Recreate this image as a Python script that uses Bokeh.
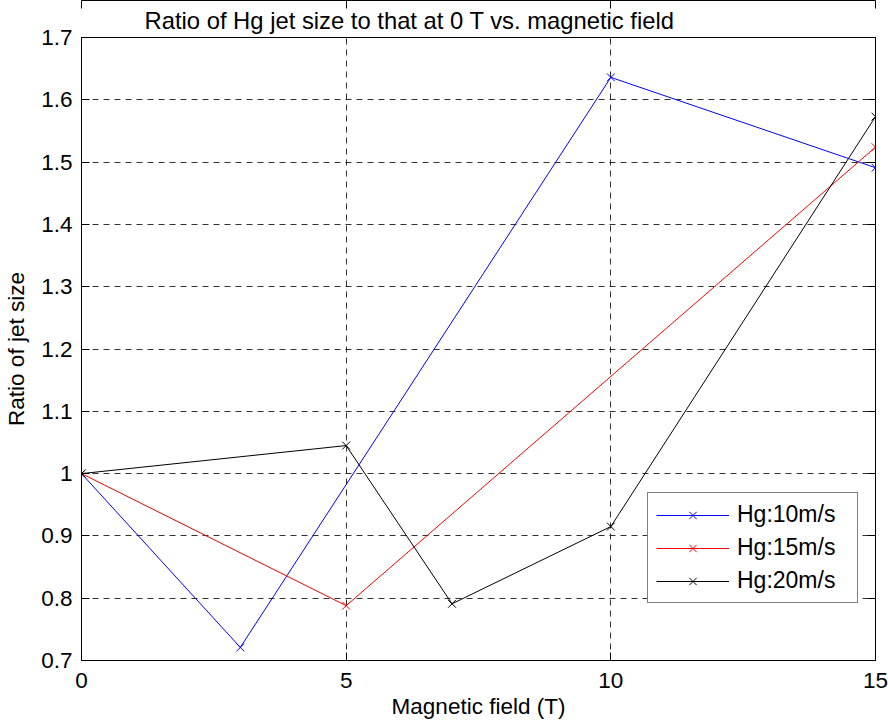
from bokeh.plotting import figure
from bokeh.models import (FixedTicker, NumeralTickFormatter, LinearAxis, Range1d,
                          Legend, LegendItem, Title, CustomJSTickFormatter)
from bokeh.embed import file_html
from bokeh.resources import INLINE

# ---- data ----
x_10 = [0, 3, 10, 15]
y_10 = [1.0, 0.721, 1.636, 1.491]
x_15 = [0, 5, 15]
y_15 = [1.0, 0.788, 1.524]
x_20 = [0, 5, 7, 10, 15]
y_20 = [1.0, 1.045, 0.791, 0.915, 1.573]

series_names = ["Hg:10m/s", "Hg:15m/s", "Hg:20m/s"]
x_ticks = [0, 5, 10, 15]
y_ticks = [0.7, 0.8, 0.9, 1.0, 1.1, 1.2, 1.3, 1.4, 1.5, 1.6, 1.7]

title_text = "Ratio of Hg jet size to that at 0 T vs. magnetic field"
x_label = "Magnetic field (T)"
y_label = "Ratio of jet size"

FONT = "Liberation Sans"
FS = "22.5px"

p = figure(width=888, height=722, output_backend="svg", toolbar_location=None,
           x_range=Range1d(0, 15), y_range=Range1d(0.7, 1.7),
           min_border_left=81, min_border_right=13, min_border_top=37,
           min_border_bottom=62)
p.title = None
p.add_layout(Title(text=title_text, align="left", offset=63, text_font=FONT,
                   text_font_size="23.8px", text_font_style="normal",
                   text_color="black", standoff=8), "above")

p.background_fill_color = "white"
p.border_fill_color = "white"
p.outline_line_color = "black"
p.outline_line_width = 1
p.outline_line_alpha = 1

for ax in [p.xaxis[0], p.yaxis[0]]:
    ax.major_tick_in = 8
    ax.major_tick_out = 0
    ax.minor_tick_line_color = None
    ax.major_label_text_font = FONT
    ax.major_label_text_font_size = FS
    ax.major_label_text_color = "black"
    ax.axis_label_text_font = FONT
    ax.axis_label_text_font_size = FS
    ax.axis_label_text_font_style = "normal"
    ax.axis_label_text_color = "black"
    ax.axis_line_color = "black"
    ax.major_tick_line_color = "black"

p.xaxis[0].ticker = FixedTicker(ticks=x_ticks)
p.yaxis[0].ticker = FixedTicker(ticks=y_ticks)
p.yaxis[0].formatter = NumeralTickFormatter(format="0.[0]")
p.xaxis[0].axis_label = x_label
p.yaxis[0].axis_label = y_label
p.xaxis[0].major_label_standoff = 12
p.xaxis[0].axis_label_standoff = 3
p.yaxis[0].major_label_standoff = 9
p.yaxis[0].axis_label_standoff = 9

# inward ticks on top and right
blank = CustomJSTickFormatter(code="return ''")
top_ax = LinearAxis(ticker=FixedTicker(ticks=x_ticks), major_tick_in=8, major_tick_out=0,
                    minor_tick_line_color=None, formatter=blank,
                    major_label_standoff=0, axis_line_color="black")
right_ax = LinearAxis(ticker=FixedTicker(ticks=y_ticks), major_tick_in=8, major_tick_out=0,
                      minor_tick_line_color=None, formatter=blank,
                      major_label_standoff=0, axis_line_color="black")
p.add_layout(top_ax, "above")
p.add_layout(right_ax, "right")

p.xgrid.ticker = FixedTicker(ticks=x_ticks)
p.ygrid.ticker = FixedTicker(ticks=y_ticks)
for g in [p.xgrid, p.ygrid]:
    g.grid_line_color = "black"
    g.grid_line_alpha = 0.8
    g.grid_line_dash = "6 5"
    g.grid_line_width = 1

colors = ["#0000ff", "#ff0000", "#000000"]
data = [(x_10, y_10), (x_15, y_15), (x_20, y_20)]
items = []
for (xs, ys), c, name in zip(data, colors, series_names):
    r1 = p.line(xs, ys, line_color=c, line_width=1)
    r2 = p.scatter(xs, ys, marker="x", size=11, line_color=c, line_width=1)
    items.append(LegendItem(label=name, renderers=[r1, r2]))

legend = Legend(items=items, location=(566, 57), orientation="vertical",
                label_text_font=FONT, label_text_font_size="23px",
                label_text_color="black", glyph_width=73, glyph_height=26,
                label_height=26, label_width=112, label_standoff=8,
                spacing=6, padding=8, margin=0,
                border_line_color="black", border_line_width=1,
                background_fill_color="white", background_fill_alpha=1)
p.add_layout(legend, "center")

open("out.html", "w").write(file_html(p, INLINE))
